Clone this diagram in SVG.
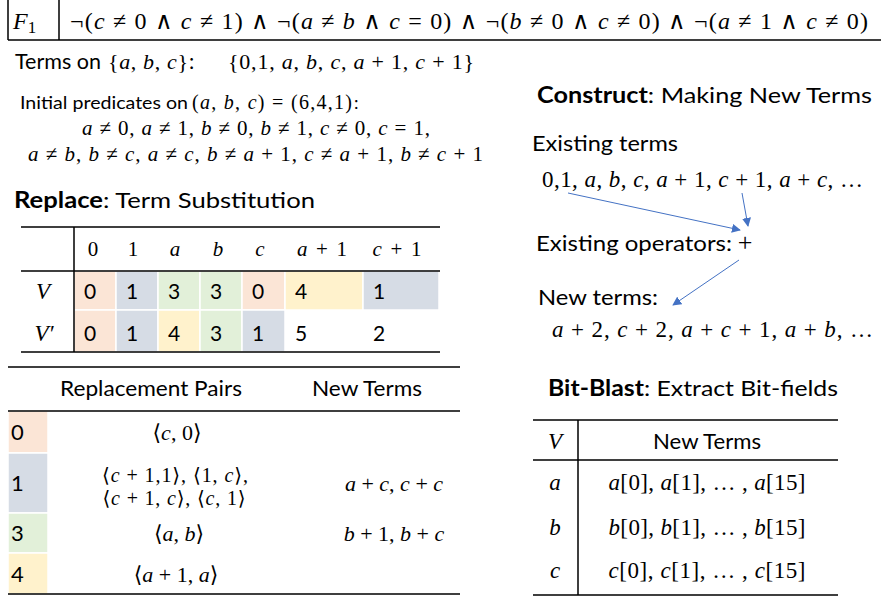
<svg xmlns="http://www.w3.org/2000/svg" width="881" height="597" viewBox="0 0 881 597">
<style>
.m{font-family:"Liberation Serif","DejaVu Serif",serif;fill:#000}
.i{font-style:italic}
.s{font-family:Lato,"Liberation Sans",sans-serif;fill:#000}
.b{font-weight:bold}
.ln{stroke:#000;stroke-width:1.5;fill:none}
.arr{stroke:#4472C4;stroke-width:1;fill:none;marker-end:url(#ah)}
.pe{fill:#FBE5D6}.bl{fill:#D6DCE5}.gr{fill:#E2F0D9}.ye{fill:#FFF2CC}
.cell{stroke:#fff;stroke-width:1.5}
</style>
<defs>
<marker id="ah" viewBox="0 0 10 10" refX="9" refY="5" markerWidth="9" markerHeight="9" markerUnits="userSpaceOnUse" orient="auto">
<path d="M0,0 L10,5 L0,10 z" fill="#4472C4"/>
</marker>
</defs>
<rect width="881" height="597" fill="#fff"/>

<g id="formula">
<path class="ln" d="M8,0 V40 M59,0 V40 M8,40 H881"/>
<text class="m" x="13" y="29" font-size="24"><tspan class="i">F</tspan><tspan font-size="17" dy="4">1</tspan></text>
<text class="m" x="70" y="29" font-size="24" textLength="798" lengthAdjust="spacing">¬(<tspan class="i">c</tspan> ≠ 0 ∧ <tspan class="i">c</tspan> ≠ 1) ∧ ¬(<tspan class="i">a</tspan> ≠ <tspan class="i">b</tspan> ∧ <tspan class="i">c</tspan> = 0) ∧ ¬(<tspan class="i">b</tspan> ≠ 0 ∧ <tspan class="i">c</tspan> ≠ 0) ∧ ¬(<tspan class="i">a</tspan> ≠ 1 ∧ <tspan class="i">c</tspan> ≠ 0)</text>
</g>

<g id="terms">
<text class="s" x="15" y="69" font-size="21" textLength="86" lengthAdjust="spacingAndGlyphs">Terms on</text>
<text class="m" x="108" y="69" font-size="22" textLength="80" lengthAdjust="spacing">{<tspan class="i">a</tspan>, <tspan class="i">b</tspan>, <tspan class="i">c</tspan>}</text>
<text class="s" x="189" y="69" font-size="21">:</text>
<text class="m" x="228" y="69" font-size="22" textLength="246" lengthAdjust="spacing">{0,1, <tspan class="i">a</tspan>, <tspan class="i">b</tspan>, <tspan class="i">c</tspan>, <tspan class="i">a</tspan> + 1, <tspan class="i">c</tspan> + 1}</text>
</g>

<g id="predicates">
<text class="s" x="20" y="109" font-size="18" textLength="168" lengthAdjust="spacingAndGlyphs">Initial predicates on</text>
<text class="m" x="192" y="109" font-size="20" textLength="160" lengthAdjust="spacing">(<tspan class="i">a</tspan>, <tspan class="i">b</tspan>, <tspan class="i">c</tspan>) = (6,4,1)</text>
<text class="s" x="354" y="109" font-size="18">:</text>
<text class="m" x="82" y="135" font-size="21" textLength="348" lengthAdjust="spacing"><tspan class="i">a</tspan> ≠ 0, <tspan class="i">a</tspan> ≠ 1, <tspan class="i">b</tspan> ≠ 0, <tspan class="i">b</tspan> ≠ 1, <tspan class="i">c</tspan> ≠ 0, <tspan class="i">c</tspan> = 1,</text>
<text class="m" x="28" y="161" font-size="21" textLength="455" lengthAdjust="spacing"><tspan class="i">a</tspan> ≠ <tspan class="i">b</tspan>, <tspan class="i">b</tspan> ≠ <tspan class="i">c</tspan>, <tspan class="i">a</tspan> ≠ <tspan class="i">c</tspan>, <tspan class="i">b</tspan> ≠ <tspan class="i">a</tspan> + 1, <tspan class="i">c</tspan> ≠ <tspan class="i">a</tspan> + 1, <tspan class="i">b</tspan> ≠ <tspan class="i">c</tspan> + 1</text>
</g>

<g id="replace-title">
<text class="s" x="14" y="208" font-size="22" textLength="301" lengthAdjust="spacingAndGlyphs"><tspan class="b">Replace</tspan>: Term Substitution</text>
</g>

<g id="replace-table">
<rect class="cell pe" x="74" y="271" width="42" height="39"/>
<rect class="cell bl" x="116" y="271" width="42" height="39"/>
<rect class="cell gr" x="158" y="271" width="42" height="39"/>
<rect class="cell gr" x="200" y="271" width="42" height="39"/>
<rect class="cell pe" x="242" y="271" width="43" height="39"/>
<rect class="cell ye" x="285" y="271" width="78" height="39"/>
<rect class="cell bl" x="363" y="271" width="76" height="39"/>
<rect class="cell pe" x="74" y="310" width="42" height="42"/>
<rect class="cell bl" x="116" y="310" width="42" height="42"/>
<rect class="cell ye" x="158" y="310" width="42" height="42"/>
<rect class="cell gr" x="200" y="310" width="42" height="42"/>
<rect class="cell bl" x="242" y="310" width="43" height="42"/>
<path class="ln" d="M21,227 H440 M21,271 H440 M21,352 H440 M74,227 V352"/>
<g class="m" font-size="21" text-anchor="middle">
<text x="93" y="256">0</text>
<text x="133" y="256">1</text>
<text x="175" y="256" class="i">a</text>
<text x="218" y="256" class="i">b</text>
<text x="260" y="256" class="i">c</text>
<text x="322" y="256" textLength="50" lengthAdjust="spacing"><tspan class="i">a</tspan> + 1</text>
<text x="397" y="256" textLength="49" lengthAdjust="spacing"><tspan class="i">c</tspan> + 1</text>
<text x="43" y="299" class="i" font-size="23">V</text>
<text x="44" y="341" class="i" font-size="23">V′</text>
</g>
<g class="s" font-size="21">
<text x="84" y="299">0</text><text x="126" y="299">1</text><text x="168" y="299">3</text><text x="210" y="299">3</text><text x="252" y="299">0</text><text x="295" y="299">4</text><text x="373" y="299">1</text>
<text x="84" y="341">0</text><text x="126" y="341">1</text><text x="168" y="341">4</text><text x="210" y="341">3</text><text x="252" y="341">1</text><text x="295" y="341">5</text><text x="373" y="341">2</text>
</g>
</g>

<g id="pairs-table">
<rect class="cell pe" x="8" y="411" width="40" height="42"/>
<rect class="cell bl" x="8" y="453" width="40" height="60"/>
<rect class="cell gr" x="8" y="513" width="40" height="40"/>
<rect class="cell ye" x="8" y="553" width="40" height="41"/>
<path class="ln" d="M8,367 H460 M8,411 H460 M8,594 H460"/>
<g class="s" font-size="22">
<text x="151" y="396" text-anchor="middle" textLength="182" lengthAdjust="spacingAndGlyphs">Replacement Pairs</text>
<text x="367" y="396" text-anchor="middle" textLength="110" lengthAdjust="spacingAndGlyphs">New Terms</text>
<text x="11" y="440">0</text>
<text x="11" y="491">1</text>
<text x="11" y="541">3</text>
<text x="11" y="582">4</text>
</g>
<g class="m" font-size="22" text-anchor="middle">
<text x="177" y="440">⟨<tspan class="i">c</tspan>, 0⟩</text>
<text x="175" y="482" font-size="20" textLength="146" lengthAdjust="spacing">⟨<tspan class="i">c</tspan> + 1,1⟩, ⟨1, <tspan class="i">c</tspan>⟩,</text>
<text x="174" y="505" font-size="20" textLength="143" lengthAdjust="spacing">⟨<tspan class="i">c</tspan> + 1, <tspan class="i">c</tspan>⟩, ⟨<tspan class="i">c</tspan>, 1⟩</text>
<text x="179" y="541">⟨<tspan class="i">a</tspan>, <tspan class="i">b</tspan>⟩</text>
<text x="176" y="582">⟨<tspan class="i">a</tspan> + 1, <tspan class="i">a</tspan>⟩</text>
<text x="394" y="491"><tspan class="i">a</tspan> + <tspan class="i">c</tspan>, <tspan class="i">c</tspan> + <tspan class="i">c</tspan></text>
<text x="394" y="541"><tspan class="i">b</tspan> + 1, <tspan class="i">b</tspan> + <tspan class="i">c</tspan></text>
</g>
</g>

<g id="construct">
<text class="s" x="537" y="103" font-size="22" textLength="335" lengthAdjust="spacingAndGlyphs"><tspan class="b">Construct</tspan>: Making New Terms</text>
</g>
<g id="existing-terms">
<text class="s" x="532" y="151" font-size="22" textLength="146" lengthAdjust="spacingAndGlyphs">Existing terms</text>
<text class="m" x="542" y="187" font-size="23" textLength="321" lengthAdjust="spacing">0,1, <tspan class="i">a</tspan>, <tspan class="i">b</tspan>, <tspan class="i">c</tspan>, <tspan class="i">a</tspan> + 1, <tspan class="i">c</tspan> + 1, <tspan class="i">a</tspan> + <tspan class="i">c</tspan>, …</text>
</g>
<g id="existing-operators">
<text class="s" x="536" y="251" font-size="22" textLength="196" lengthAdjust="spacingAndGlyphs">Existing operators:</text>
<text class="m" x="745" y="251" font-size="26" text-anchor="middle">+</text>
</g>
<g id="new-terms">
<text class="s" x="538" y="305" font-size="22" textLength="120" lengthAdjust="spacingAndGlyphs">New terms:</text>
<text class="m" x="552" y="337" font-size="23" textLength="321" lengthAdjust="spacing"><tspan class="i">a</tspan> + 2, <tspan class="i">c</tspan> + 2, <tspan class="i">a</tspan> + <tspan class="i">c</tspan> + 1, <tspan class="i">a</tspan> + <tspan class="i">b</tspan>, …</text>
</g>

<g id="connectors">
<path class="arr" d="M568,193 L740,230"/>
<path class="arr" d="M742,193 L748,226"/>
<path class="arr" d="M739,260 L673,305"/>
</g>

<g id="bitblast">
<text class="s" x="548" y="396" font-size="22" textLength="290" lengthAdjust="spacingAndGlyphs"><tspan class="b">Bit-Blast</tspan>: Extract Bit-fields</text>
<path class="ln" d="M533,420 H838 M533,460 H838 M533,595 H838 M578,420 V595"/>
<text class="m i" x="555" y="449" font-size="23" text-anchor="middle">V</text>
<text class="s" x="707" y="449" font-size="22" text-anchor="middle" textLength="108" lengthAdjust="spacingAndGlyphs">New Terms</text>
<g class="m" font-size="23" text-anchor="middle">
<text x="555" y="490" class="i">a</text>
<text x="555" y="535" class="i">b</text>
<text x="555" y="578" class="i">c</text>
<text x="707" y="490" textLength="197" lengthAdjust="spacing"><tspan class="i">a</tspan>[0], <tspan class="i">a</tspan>[1], … , <tspan class="i">a</tspan>[15]</text>
<text x="707" y="535" textLength="197" lengthAdjust="spacing"><tspan class="i">b</tspan>[0], <tspan class="i">b</tspan>[1], … , <tspan class="i">b</tspan>[15]</text>
<text x="707" y="578" textLength="197" lengthAdjust="spacing"><tspan class="i">c</tspan>[0], <tspan class="i">c</tspan>[1], … , <tspan class="i">c</tspan>[15]</text>
</g>
</g>
</svg>
